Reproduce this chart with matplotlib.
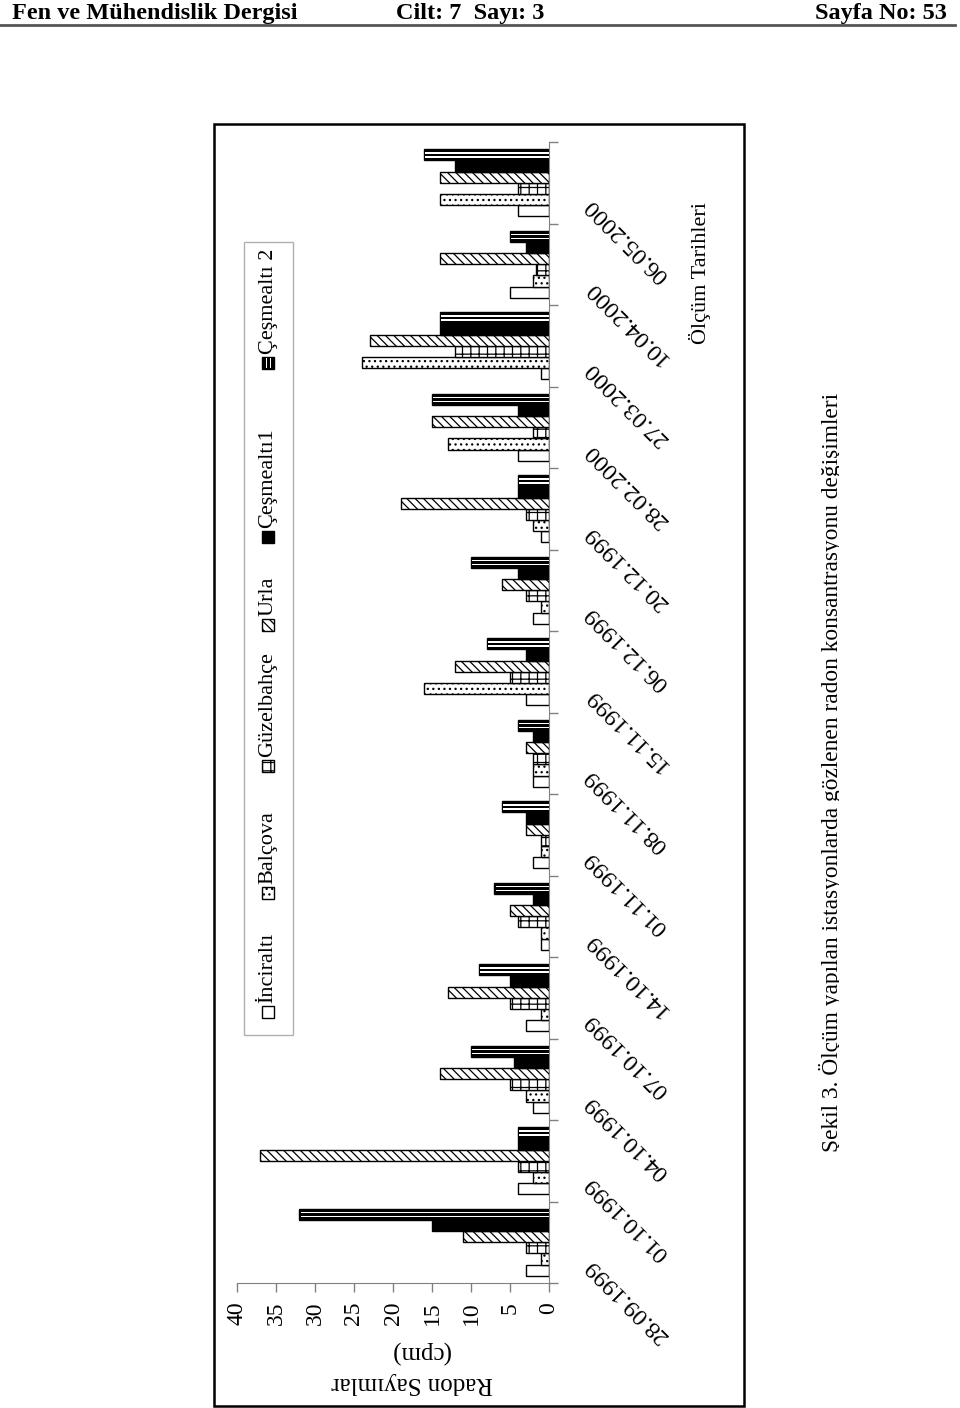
import numpy as np
import matplotlib
matplotlib.use("Agg")
import matplotlib.pyplot as plt
from matplotlib.patches import Rectangle
from matplotlib.lines import Line2D
from matplotlib.transforms import Bbox, TransformedBbox

# measurement dates, bottom to top in the rotated chart
dates = ['28.09.1999', '01.10.1999', '04.10.1999', '07.10.1999', '14.10.1999',
         '01.11.1999', '08.11.1999', '15.11.1999', '06.12.1999', '20.12.1999',
         '28.02.2000', '27.03.2000', '10.04.2000', '06.05.2000']
stations = ['İnciraltı', 'Balçova', 'Güzelbahçe', 'Urla', 'Çeşmealtı1', 'Çeşmealtı 2']

# radon counts (cpm)
inciralti  = [3, 4, 2, 3, 1, 2, 2, 3, 2, 1, 4, 1, 5, 4]
balcova    = [1, 2, 3, 1, 1, 1, 2, 16, 1, 2, 13, 24, 2, 14]
guzelbahce = [3, 4, 5, 5, 4, 1, 2, 5, 3, 3, 2, 12, 1.7, 4]
urla       = [11, 37, 14, 13, 5, 3, 3, 12, 6, 19, 15, 23, 14, 14]
cesmealti1 = [15, 4, 4.5, 5, 2, 3, 2, 3, 4, 4, 4, 14, 3, 12]
cesmealti2 = [32, 4, 10, 9, 7, 6, 4, 8, 10, 4, 15, 14, 5, 16]
values = [inciralti, balcova, guzelbahce, urla, cesmealti1, cesmealti2]

W, H = 960, 1408
plt.rcParams['font.family'] = ['Liberation Serif', 'DejaVu Serif']
plt.rcParams['hatch.linewidth'] = 0.9

fig = plt.figure(figsize=(W / 100, H / 100), dpi=100)


def fx(x):
    return x / W


def fy(y):
    return 1 - y / H


# page header
fig.text(fx(12), fy(13), 'Fen ve Mühendislik Dergisi', fontsize=17.5, fontweight='bold', ha='left', va='center')
fig.text(fx(470), fy(13), 'Cilt: 7  Sayı: 3', fontsize=17.5, fontweight='bold', ha='center', va='center')
fig.text(fx(947), fy(13), 'Sayfa No: 53', fontsize=17.5, fontweight='bold', ha='right', va='center')
fig.add_artist(Line2D([0, fx(955)], [fy(25), fy(25)], color='#555555', lw=2))

# chart frame
fig.add_artist(Rectangle((fx(214), fy(1406)), fx(744) - fx(214), fy(124) - fy(1406),
                         fill=False, ec='black', lw=1.8))

ax = fig.add_axes([fx(237), fy(1283), fx(549) - fx(237), fy(142) - fy(1283)])
n = len(dates)
y = np.arange(n)
w = 0.137
faces = ['white', 'white', 'white', 'white', 'black', 'black']
hatches = ['', '...', '++', '\\\\\\\\', '', '']
for j, vals in enumerate(values):
    ax.barh(y + (j - 2.5) * w, vals, height=w, color=faces[j], edgecolor='black',
            hatch=hatches[j], linewidth=1)
# white stripes of Çeşmealtı 2
c2 = np.array(cesmealti2)
for d in (-0.18, 0.18):
    ax.barh(y + 2.5 * w + d * w, c2 - 0.15, height=0.13 * w, color='white', linewidth=0)

ax.set_xlim(40, 0)
ax.set_ylim(-0.5, n - 0.5)
ax.set_xticks(np.arange(0, 41, 5))
ax.tick_params(axis='x', direction='out', length=6.5, width=1, color='#808080',
               labelrotation=90, labelsize=17, pad=7)
ax.yaxis.tick_right()
ax.set_yticks(np.arange(-0.5, n, 1.0))
ax.set_yticklabels([])
ax.tick_params(axis='y', direction='out', length=6.5, width=1, color='#808080')
for s in ['top', 'left']:
    ax.spines[s].set_visible(False)
for s in ['bottom', 'right']:
    ax.spines[s].set_color('#808080')

for i, d in enumerate(dates):
    ax.annotate(d, xy=(1, i), xycoords=('axes fraction', 'data'), xytext=(28, -14),
                textcoords='offset points', rotation=135, rotation_mode='anchor',
                ha='right', va='center', fontsize=17.5)

fig.text(fx(412), fy(1383), 'Radon Sayımlar', rotation=180, ha='center', va='center', fontsize=18)
fig.text(fx(420), fy(1352), '(cpm)', rotation=180, ha='center', va='center', fontsize=18)
fig.text(fx(700), fy(273), 'Ölçüm Tarihleri', rotation=90, ha='center', va='center', fontsize=16)

# legend
fig.add_artist(Rectangle((fx(244), fy(1035)), fx(293) - fx(244), fy(242) - fy(1035),
                         fill=False, ec='#b0b0b0', lw=1))
leg_y = [1012, 893, 766, 625, 537, 363]
for j, name in enumerate(stations):
    yc = leg_y[j]
    fig.add_artist(Rectangle((fx(262), fy(yc + 6)), 12 / W, 12 / H, fc=faces[j], ec='black',
                             hatch=hatches[j], lw=1))
    if j == 5:
        for xs in (265.5, 269.5):
            fig.add_artist(Rectangle((fx(xs), fy(yc + 5)), 1.5 / W, 10 / H, fc='white', lw=0))
    fig.text(fx(268), fy(yc - 9), name, rotation=90, ha='center', va='bottom', fontsize=16)

# caption, clipped at the baseline as in the scan
cap = fig.text(fx(838), fy(772), 'Şekil 3. Ölçüm yapılan istasyonlarda gözlenen radon konsantrasyonu değişimleri',
               rotation=90, rotation_mode='anchor', ha='center', va='baseline', fontsize=16.8)
cap.set_clip_box(TransformedBbox(Bbox.from_extents(0, 0, fx(839), 1), fig.transFigure))
cap.set_clip_on(True)

fig.savefig('out.png', dpi=100, facecolor='white')
